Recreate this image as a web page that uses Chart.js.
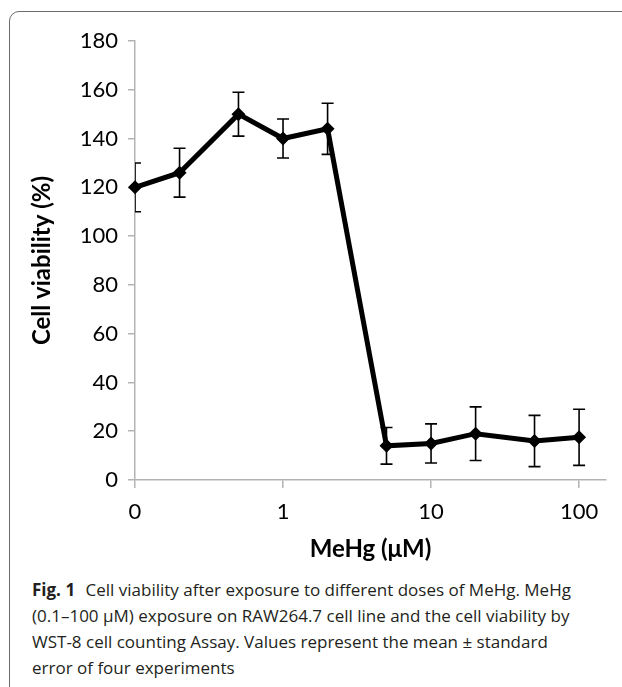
<!DOCTYPE html>
<html>
<head>
<meta charset="utf-8">
<script src="https://cdn.jsdelivr.net/npm/chart.js@4.4.0/dist/chart.umd.min.js"></script>
<style>
  html, body { margin: 0; padding: 0; background: #fff; }
  body { width: 622px; height: 687px; position: relative; overflow: hidden; }
  .frame {
    position: absolute; left: 9px; top: 11px; width: 700px; height: 690px;
    border: 1.5px solid #6b6b6b; border-radius: 10px; box-sizing: border-box;
  }
  #chart { position: absolute; left: 0; top: 0; }
  .caption {
    position: absolute; left: 32px; top: 577px;
    font-family: "Open Sans", sans-serif; font-size: 17px; line-height: 26px;
    color: #231f20; white-space: nowrap;
  }
  .caption b { font-weight: bold; margin-right: 6px; }
</style>
</head>
<body>
<div class="frame"></div>
<canvas id="chart" width="622" height="570"></canvas>
<div class="caption">
  <b>Fig. 1</b> Cell viability after exposure to different doses of MeHg. MeHg<br>
  (0.1–100 μM) exposure on RAW264.7 cell line and the cell viability by<br>
  WST-8 cell counting Assay. Values represent the mean ± standard<br>
  error of four experiments
</div>

<script>
// MeHg doses (µM) and measured viability
const doses = [0.1, 0.2, 0.5, 1, 2, 5, 10, 20, 50, 100];
const viability = [120, 126, 150, 140, 144, 14, 15, 19, 16, 17.5];
const errors = [10, 10, 9, 8, 10.5, 7.5, 8, 11, 10.5, 11.5];

// axis ticks
const xTickValues = [0.1, 1, 10, 100];
const xTickLabels = ["0", "1", "10", "100"];
const yMin = 0, yMax = 180, yStep = 20;

const axisGray = "#b3b3b3";

// error bars drawn through the scales
const errorBars = {
  id: "errorBars",
  afterDatasetsDraw(chart) {
    const ctx = chart.ctx;
    const xs = chart.scales.x, ys = chart.scales.y;
    const area = chart.chartArea;
    ctx.save();
    ctx.beginPath();
    ctx.rect(area.left, 0, chart.width - area.left, chart.height);
    ctx.clip();
    ctx.strokeStyle = "#000";
    ctx.lineWidth = 1.6;
    for (let i = 0; i < doses.length; i++) {
      let x = xs.getPixelForValue(doses[i]);
      let top = ys.getPixelForValue(viability[i] + errors[i]);
      let bot = ys.getPixelForValue(viability[i] - errors[i]);
      ctx.beginPath();
      ctx.moveTo(x, top); ctx.lineTo(x, bot);
      ctx.moveTo(x - 6, top); ctx.lineTo(x + 6, top);
      ctx.moveTo(x - 6, bot); ctx.lineTo(x + 6, bot);
      ctx.stroke();
    }
    ctx.restore();
  }
};

const ctx = document.getElementById("chart").getContext("2d");
new Chart(ctx, {
  type: "line",
  data: {
    datasets: [{
      data: doses.map((d, i) => ({ x: d, y: viability[i] })),
      borderColor: "#000",
      borderWidth: 5,
      backgroundColor: "#000",
      pointStyle: "rectRot",
      pointRadius: 7,
      pointBackgroundColor: "#000",
      pointBorderWidth: 0,
      tension: 0,
      clip: false
    }]
  },
  options: {
    responsive: false,
    animation: false,
    layout: { padding: { left: 10, top: 41, right: 16, bottom: 0 } },
    plugins: { legend: { display: false }, tooltip: { enabled: false } },
    scales: {
      x: {
        type: "logarithmic",
        bounds: "data",
        min: 0.1,
        max: 152,
        afterBuildTicks: (scale) => { scale.ticks = xTickValues.map(v => ({ value: v })); },
        afterFit: (scale) => { scale.height = 90; },
        grid: { drawOnChartArea: false, drawTicks: true, tickLength: 8, color: axisGray, lineWidth: 1.5 },
        border: { color: axisGray, width: 1.5 },
        ticks: {
          autoSkip: false, maxRotation: 0, padding: 11,
          color: "#000",
          font: { family: "Lato", size: 22 },
          callback: (v, i) => xTickLabels[i]
        },
        title: {
          display: true, text: "MeHg (μM)", color: "#000",
          font: { family: "Lato", size: 24, weight: "bold" },
          padding: { top: 0, bottom: 6 }
        }
      },
      y: {
        min: yMin, max: yMax,
        afterFit: (scale) => { scale.width = 125; },
        grid: { drawOnChartArea: false, drawTicks: true, tickLength: 7, color: axisGray, lineWidth: 1.5 },
        border: { color: axisGray, width: 1.5 },
        ticks: {
          stepSize: yStep, padding: 10, color: "#000",
          font: { family: "Lato", size: 22 }
        },
        title: {
          display: true, text: "Cell viability (%)", color: "#000",
          font: { family: "Lato", size: 24, weight: "bold" },
          padding: { top: 18, bottom: 0 }
        }
      }
    }
  },
  plugins: [errorBars]
});
</script>
</body>
</html>
